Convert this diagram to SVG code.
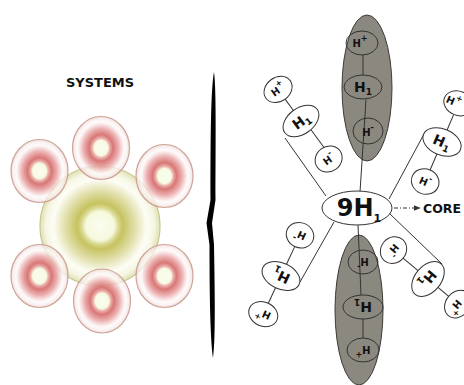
<svg xmlns="http://www.w3.org/2000/svg" width="464" height="385" viewBox="0 0 464 385">
<defs>
<radialGradient id="gBig" cx="50%" cy="50%" r="50%">
<stop offset="0" stop-color="#fbfdf0"/>
<stop offset="0.24" stop-color="#f6f9dc"/>
<stop offset="0.31" stop-color="#d8d890"/>
<stop offset="0.38" stop-color="#c6c360"/>
<stop offset="0.56" stop-color="#dedca2"/>
<stop offset="0.78" stop-color="#fdfdf6"/>
<stop offset="0.9" stop-color="#f6f6e4"/>
<stop offset="1" stop-color="#e0e0b4"/>
</radialGradient>
<radialGradient id="gSm" cx="50%" cy="50%" r="50%">
<stop offset="0" stop-color="#fafdea"/>
<stop offset="0.24" stop-color="#f7fbe2"/>
<stop offset="0.31" stop-color="#e9a8a0"/>
<stop offset="0.42" stop-color="#d46464"/>
<stop offset="0.62" stop-color="#eaa8a8"/>
<stop offset="0.82" stop-color="#fefafa" stop-opacity="0.85"/>
<stop offset="0.92" stop-color="#f8eeee" stop-opacity="0.85"/>
<stop offset="1" stop-color="#edd5d0" stop-opacity="0.9"/>
</radialGradient>
<marker id="arr" viewBox="0 0 10 10" refX="9" refY="5" markerWidth="7" markerHeight="7" markerUnits="userSpaceOnUse" orient="auto">
<path d="M0,1 L10,5 L0,9 Z" fill="#333"/>
</marker>
<style>
.big{fill:url(#gBig);stroke:#c8c890;stroke-width:1.2}
.sm{fill:url(#gSm);stroke:#c9998c;stroke-width:1.2;opacity:0.88}
.gr{fill:#8b887f;stroke:#3d3b37;stroke-width:1}
.e{fill:#fff;stroke:#333;stroke-width:1}
.eg{fill:none;stroke:#333;stroke-width:1}
.ln{stroke:#333;stroke-width:1;fill:none}
.t{font-family:"DejaVu Sans",Verdana,sans-serif;font-weight:bold;fill:#111;text-anchor:middle}
.ts{font-size:10px}
.tb{font-size:14px}
</style>
</defs>
<rect width="464" height="385" fill="#fff"/>

<g id="systems">
<text class="t" x="100" y="87" font-size="13">SYSTEMS</text>
<circle class="big" cx="100" cy="226" r="60"/>
<ellipse class="sm" cx="101" cy="148" rx="28.5" ry="31.5"/>
<ellipse class="sm" cx="39.5" cy="171" rx="28.5" ry="31.5"/>
<ellipse class="sm" cx="164.5" cy="176" rx="28.5" ry="31.5"/>
<ellipse class="sm" cx="39.5" cy="276" rx="28.5" ry="31.5"/>
<ellipse class="sm" cx="164.5" cy="276" rx="28.5" ry="31.5"/>
<ellipse class="sm" cx="102" cy="301" rx="28.5" ry="32"/>
</g>

<g id="divider">
<path d="M214 72 C210.5 90 210.5 150 210.5 200 L206.5 223 L209.5 245 C209.5 300 210.5 340 213 358 C215.5 340 215 300 214 245 L212 223 L215.5 200 C215.5 150 216.5 90 214 72 Z" fill="#000"/>
</g>

<g id="gray-shells">
<ellipse class="gr" cx="367" cy="88" rx="25" ry="73"/>
<ellipse class="gr" cx="359" cy="310" rx="24" ry="75"/>
</g>

<g id="connectors">
<line class="ln" x1="363" y1="55" x2="363" y2="75"/>
<line class="ln" x1="366" y1="99.5" x2="360" y2="192"/>
<line class="ln" x1="358" y1="225" x2="361" y2="295"/>
<line class="ln" x1="363" y1="319" x2="363" y2="338"/>
<line class="ln" x1="285" y1="138" x2="326" y2="196"/>
<line class="ln" x1="424" y1="134" x2="389" y2="199"/>
<line class="ln" x1="300" y1="282" x2="334" y2="222"/>
<line class="ln" x1="389" y1="213" x2="442" y2="264"/>
<g transform="translate(301,121) rotate(-36)"><line class="ln" x1="0" y1="-27" x2="0" y2="-13"/><line class="ln" x1="3" y1="12" x2="3" y2="35"/></g>
<g transform="translate(442,142) rotate(23)"><line class="ln" x1="0" y1="-30" x2="0" y2="-13"/><line class="ln" x1="0" y1="13" x2="0" y2="31"/></g>
<g transform="translate(281,276) rotate(205)"><line class="ln" x1="0" y1="-30" x2="0" y2="-13"/><line class="ln" x1="0" y1="13" x2="0" y2="33"/></g>
<g transform="translate(428,279) rotate(130)"><line class="ln" x1="0" y1="-27" x2="0" y2="-13"/><line class="ln" x1="0" y1="13" x2="0" y2="33"/></g>
<line x1="394" y1="208" x2="420" y2="208" stroke="#333" stroke-width="1" stroke-dasharray="4 2 1 2" marker-end="url(#arr)"/>
</g>

<g id="top-chain">
<ellipse class="eg" cx="362" cy="43" rx="16" ry="12"/>
<text class="t ts" x="360" y="47">H<tspan font-size="8" dy="-6">+</tspan></text>
<ellipse class="eg" cx="363" cy="87" rx="19" ry="12"/>
<text class="t tb" x="363" y="92">H<tspan font-size="9" dy="3">1</tspan></text>
<ellipse class="eg" cx="368" cy="131" rx="15" ry="13"/>
<text class="t ts" x="368" y="136">H<tspan font-size="8" dy="-6">-</tspan></text>
</g>

<g id="bottom-chain" transform="translate(363,307) rotate(180)">
<ellipse class="eg" cx="0" cy="45" rx="15" ry="12"/>
<text class="t ts" x="0" y="49">H<tspan font-size="8" dy="-6">-</tspan></text>
<ellipse class="eg" cx="0" cy="0" rx="20" ry="12"/>
<text class="t tb" x="0" y="5">H<tspan font-size="9" dy="3">1</tspan></text>
<ellipse class="eg" cx="0" cy="-43" rx="16" ry="12"/>
<text class="t ts" x="0" y="-39">H<tspan font-size="8" dy="-6">+</tspan></text>
</g>

<g id="arm-top-left" transform="translate(301,121) rotate(-36)">
<ellipse class="e" cx="0" cy="-39" rx="15" ry="12"/>
<text class="t ts" x="0" y="-35">H<tspan font-size="8" dy="-6">+</tspan></text>
<ellipse class="e" cx="0" cy="0" rx="20" ry="13"/>
<text class="t tb" x="0" y="5">H<tspan font-size="9" dy="3">1</tspan></text>
<ellipse class="e" cx="0" cy="47" rx="14" ry="12.5"/>
<text class="t ts" x="0" y="51">H<tspan font-size="8" dy="-6">-</tspan></text>
</g>

<g id="arm-top-right" transform="translate(442,142) rotate(23)">
<ellipse class="e" cx="0" cy="-42" rx="15" ry="12"/>
<text class="t ts" x="-5" y="-38">H<tspan font-size="8" dy="-6">+</tspan></text>
<ellipse class="e" cx="0" cy="0" rx="20" ry="13"/>
<text class="t tb" x="0" y="5">H<tspan font-size="9" dy="3">1</tspan></text>
<ellipse class="e" cx="0" cy="43" rx="14" ry="12.5"/>
<text class="t ts" x="0" y="47">H<tspan font-size="8" dy="-6">-</tspan></text>
</g>

<g id="arm-bottom-left" transform="translate(281,276) rotate(205)">
<ellipse class="e" cx="0" cy="-42" rx="15" ry="12"/>
<text class="t ts" x="0" y="-38">H<tspan font-size="8" dy="-6">+</tspan></text>
<ellipse class="e" cx="0" cy="0" rx="20" ry="13"/>
<text class="t tb" x="0" y="5">H<tspan font-size="9" dy="3">1</tspan></text>
<ellipse class="e" cx="0" cy="45" rx="14" ry="12.5"/>
<text class="t ts" x="0" y="49">H<tspan font-size="8" dy="-6">-</tspan></text>
</g>

<g id="arm-bottom-right" transform="translate(428,279) rotate(130)">
<ellipse class="e" cx="0" cy="-39" rx="15" ry="12"/>
<text class="t ts" x="4" y="-35">H<tspan font-size="8" dy="-6">+</tspan></text>
<ellipse class="e" cx="0" cy="0" rx="20" ry="13"/>
<text class="t tb" x="0" y="5">H<tspan font-size="9" dy="3">1</tspan></text>
<ellipse class="e" cx="0" cy="45" rx="14" ry="12.5"/>
<text class="t ts" x="0" y="49">H<tspan font-size="8" dy="-6">-</tspan></text>
</g>

<g id="core">
<ellipse class="e" cx="357" cy="208" rx="35" ry="17"/>
<text class="t" x="359" y="216" font-size="24">9H<tspan font-size="11" dy="6">1</tspan></text>
</g>

<g id="core-label">
<text class="t" x="442" y="213" font-size="12.5">CORE</text>
</g>
</svg>
